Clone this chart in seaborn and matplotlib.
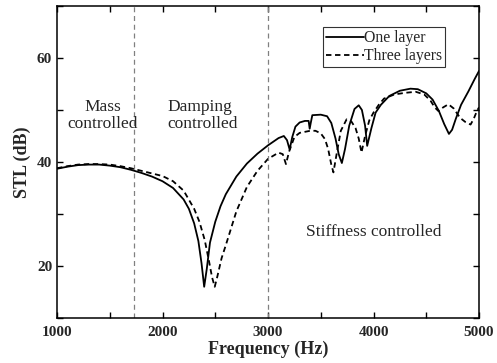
import numpy as np
import pandas as pd
import seaborn as sns
import matplotlib.pyplot as plt
from matplotlib.ticker import MultipleLocator

# One layer (solid)
freq_one = [1000, 1100, 1200, 1300, 1400, 1500, 1600, 1700, 1800, 1900, 2000, 2100, 2200,
            2250, 2300, 2340, 2370, 2395, 2420, 2450, 2500, 2550, 2600, 2700, 2800, 2900,
            3000, 3100, 3150, 3180, 3205, 3230, 3260, 3300, 3350, 3385, 3395, 3405, 3420,
            3500, 3560, 3600, 3640, 3670, 3700, 3730, 3770, 3820, 3860, 3890, 3920, 3940,
            3980, 4020, 4070, 4150, 4250, 4350, 4420, 4500, 4560, 4620, 4670, 4715, 4745,
            4780, 4830, 4900, 4960, 5000]
stl_one = [38.7, 39.1, 39.4, 39.5, 39.5, 39.3, 39.0, 38.5, 37.9, 37.2, 36.3, 35.0, 32.8,
           31.0, 28.2, 24.8, 20.5, 16.0, 19.5, 24.5, 28.5, 31.5, 33.8, 37.2, 39.7, 41.6,
           43.2, 44.6, 45.0, 44.2, 42.4, 44.8, 46.8, 47.6, 47.9, 47.9, 46.4, 47.5, 49.0,
           49.1, 48.8, 47.5, 44.5, 41.5, 39.8, 42.5, 47.0, 50.2, 50.9, 50.0, 47.0, 43.1,
           46.5, 49.5, 51.0, 52.7, 53.7, 54.1, 54.0, 53.2, 52.0, 49.8, 47.3, 45.4, 46.2,
           48.3, 51.0, 53.6, 56.0, 57.5]

# Three layers (dashed)
freq_three = [1000, 1100, 1200, 1300, 1400, 1500, 1600, 1700, 1800, 1900, 2000, 2100, 2200,
              2300, 2350, 2400, 2440, 2470, 2495, 2520, 2560, 2600, 2700, 2800, 2900, 3000,
              3050, 3100, 3140, 3170, 3200, 3250, 3300, 3400, 3450, 3500, 3540, 3570, 3600,
              3620, 3650, 3690, 3745, 3790, 3830, 3860, 3886, 3920, 3960, 4000, 4050, 4100,
              4200, 4300, 4400, 4480, 4540, 4580, 4615, 4660, 4710, 4760, 4820, 4870, 4920,
              4950, 4980, 5000]
stl_three = [38.8, 39.2, 39.5, 39.6, 39.6, 39.5, 39.2, 38.8, 38.3, 37.8, 37.3, 36.3, 34.5,
             31.0, 28.5, 25.0, 21.0, 17.8, 16.0, 18.0, 21.5, 24.0, 30.5, 35.2, 38.3, 40.6,
             41.2, 41.8, 41.5, 39.6, 42.0, 44.8, 45.6, 46.0, 46.0, 45.5, 44.4, 42.5, 39.5,
             38.0, 41.5, 46.0, 48.2, 47.8, 46.5, 44.5, 41.8, 45.0, 48.0, 49.5, 51.0, 52.2,
             53.0, 53.3, 53.5, 53.0, 51.8, 50.5, 49.8, 50.5, 51.1, 50.3, 48.5, 47.7, 47.2,
             48.3, 49.8, 50.5]

boundaries = [1730, 3000]

sns.set_style("ticks")
plt.rcParams['font.family'] = ['Liberation Serif', 'DejaVu Serif']
plt.rcParams['xtick.direction'] = 'in'
plt.rcParams['ytick.direction'] = 'in'

df_one = pd.DataFrame({'freq': freq_one, 'stl': stl_one})
df_three = pd.DataFrame({'freq': freq_three, 'stl': stl_three})

fig = plt.figure(figsize=(4.97, 3.63), dpi=100)
ax = fig.add_axes([0.1147, 0.124, 0.8491, 0.8595])

sns.lineplot(data=df_one, x='freq', y='stl', ax=ax, color='black', lw=1.3,
             label='One layer', sort=False)
sns.lineplot(data=df_three, x='freq', y='stl', ax=ax, color='black', lw=1.3,
             label='Three layers', sort=False)
ax.lines[1].set_dashes([3, 2])

for b in boundaries:
    ax.axvline(b, color='gray', lw=0.9, ls=(0, (4, 3)))

ax.set_xlim(1000, 5000)
ax.set_ylim(10, 70)
ax.xaxis.set_major_locator(MultipleLocator(1000))
ax.xaxis.set_minor_locator(MultipleLocator(500))
ax.yaxis.set_major_locator(MultipleLocator(20))
ax.yaxis.set_minor_locator(MultipleLocator(10))
ax.tick_params(which='both', top=True, right=True, length=4, width=1, color='black')
ax.tick_params(axis='x', pad=6)
for lab in ax.get_xticklabels() + ax.get_yticklabels():
    lab.set_fontweight('bold')
    lab.set_fontsize(11)
for s in ax.spines.values():
    s.set_linewidth(1.1)
    s.set_color('black')

ax.set_xlabel('Frequency (Hz)', fontsize=13, fontweight='bold', labelpad=1)
ax.set_ylabel('STL (dB)', fontsize=13, fontweight='bold', labelpad=4)

ax.text(1430, 49.0, 'Mass\ncontrolled', fontsize=12.5, ha='center', va='center',
        linespacing=1.1)
ax.text(2050, 49.0, 'Damping\ncontrolled', fontsize=12.5, ha='left', va='center',
        linespacing=1.1)
ax.text(4000, 26.5, 'Stiffness controlled', fontsize=12.5, ha='center', va='center')

leg = ax.legend(loc='upper left', bbox_to_anchor=(0.630, 0.932), fontsize=11.3,
                frameon=True, fancybox=False, edgecolor='black', handlelength=2.4,
                handletextpad=0.0, borderpad=0.2, labelspacing=0.12, borderaxespad=0)
leg.get_frame().set_linewidth(0.8)

fig.savefig('out.png', dpi=100)
